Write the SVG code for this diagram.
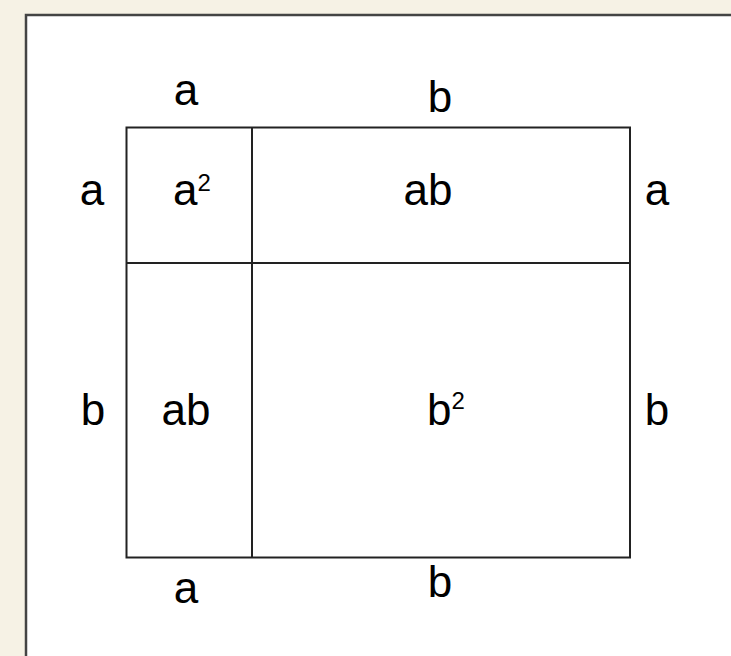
<svg xmlns="http://www.w3.org/2000/svg" width="731" height="656" viewBox="0 0 731 656">
<style>
.t{font-family:"Liberation Sans",Arial,sans-serif;font-size:44px;fill:#000;text-anchor:middle}
.s{font-size:24px}
.ln{stroke:#222;stroke-width:2;fill:none}
</style>
<rect x="0" y="0" width="731" height="656" fill="#f6f2e5"/>
<rect x="26" y="15" width="720" height="660" fill="#fff" stroke="#444" stroke-width="2.5"/>
<g id="connectors">
<rect class="ln" x="126.5" y="127.5" width="503.5" height="430"/>
<line class="ln" x1="252" y1="127.5" x2="252" y2="557.5"/>
<line class="ln" x1="126.5" y1="263" x2="630" y2="263"/>
</g>
<g id="labels-top"><text class="t" x="186" y="105">a</text><text class="t" x="440" y="112">b</text></g>
<g id="labels-bottom"><text class="t" x="186" y="603">a</text><text class="t" x="440" y="597">b</text></g>
<g id="labels-left"><text class="t" x="92" y="205">a</text><text class="t" x="93" y="425">b</text></g>
<g id="labels-right"><text class="t" x="657" y="205">a</text><text class="t" x="657" y="425">b</text></g>
<g id="cell-a2"><text class="t" x="192" y="205">a<tspan class="s" dy="-14">2</tspan></text></g>
<g id="cell-ab1"><text class="t" x="428" y="205">ab</text></g>
<g id="cell-ab2"><text class="t" x="186" y="425">ab</text></g>
<g id="cell-b2"><text class="t" x="446" y="425">b<tspan class="s" dy="-16">2</tspan></text></g>
</svg>
